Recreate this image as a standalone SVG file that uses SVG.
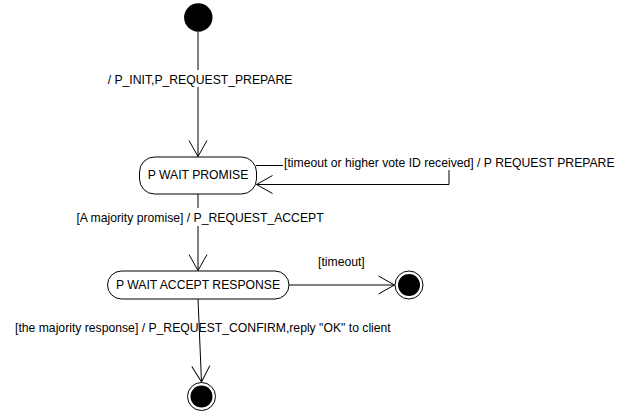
<svg xmlns="http://www.w3.org/2000/svg" width="638" height="413" viewBox="0 0 638 413">
<style>
text{font-family:"Liberation Sans",Arial,sans-serif;font-size:12.2px;fill:#000}
.st{fill:#fff;stroke:#000;stroke-width:1}
.ln{fill:none;stroke:#000;stroke-width:1}
</style>
<defs>
<marker id="arr" markerUnits="userSpaceOnUse" markerWidth="20" markerHeight="20" viewBox="-17 -10 20 20" refX="0" refY="0" orient="auto">
<path d="M-16,-9 L0,0 L-16,9" fill="none" stroke="#000" stroke-width="1"/>
</marker>
</defs>
<rect width="638" height="413" fill="#fff"/>
<g id="connectors">
<line class="ln" x1="198" y1="32" x2="198" y2="70"/>
<line class="ln" x1="198" y1="87" x2="198" y2="156.5" marker-end="url(#arr)"/>
<text x="200" y="83.5" text-anchor="middle">/ P_INIT,P_REQUEST_PREPARE</text>
<line class="ln" x1="256" y1="165.5" x2="283" y2="165.5"/>
<polyline class="ln" points="449,170 449,184.5 256.5,184.5" marker-end="url(#arr)"/>
<text x="284" y="167">[timeout or higher vote ID received] / P REQUEST PREPARE</text>
<line class="ln" x1="198" y1="194" x2="198" y2="208"/>
<line class="ln" x1="198" y1="226" x2="198" y2="270.5" marker-end="url(#arr)"/>
<text x="200" y="222" text-anchor="middle">[A majority promise] / P_REQUEST_ACCEPT</text>
<line class="ln" x1="289" y1="285" x2="394.5" y2="285" marker-end="url(#arr)"/>
<text x="318" y="266">[timeout]</text>
<line class="ln" x1="198" y1="299" x2="201.5" y2="382" marker-end="url(#arr)"/>
<text x="15" y="332">[the majority response] / P_REQUEST_CONFIRM,reply "OK" to client</text>
</g>
<g id="initial">
<circle cx="198.3" cy="17.5" r="14.2" fill="#000"/>
</g>
<g id="p-wait-promise">
<rect class="st" x="139.5" y="157" width="117" height="37" rx="15" ry="15"/>
<text x="198" y="178.5" text-anchor="middle">P WAIT PROMISE</text>
</g>
<g id="p-wait-accept-response">
<rect class="st" x="107.5" y="271" width="181.5" height="28" rx="14" ry="14"/>
<text x="198" y="289" text-anchor="middle">P WAIT ACCEPT RESPONSE</text>
</g>
<g id="final-timeout">
<circle cx="409" cy="285" r="14" fill="#fff" stroke="#000" stroke-width="1"/>
<circle cx="409" cy="285" r="11" fill="#000"/>
</g>
<g id="final-confirm">
<circle cx="201.5" cy="396.5" r="14" fill="#fff" stroke="#000" stroke-width="1"/>
<circle cx="201.5" cy="396.5" r="11" fill="#000"/>
</g>
</svg>
